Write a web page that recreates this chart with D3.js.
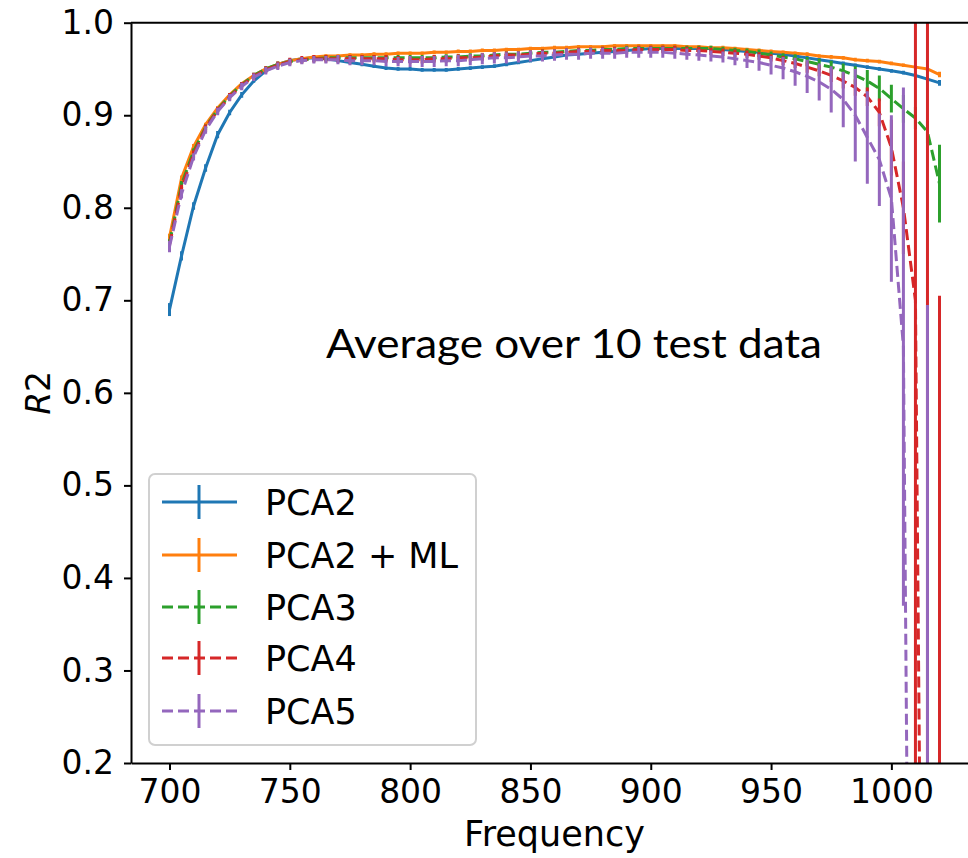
<!DOCTYPE html>
<html>
<head>
<meta charset="utf-8">
<script src="https://cdn.jsdelivr.net/npm/d3@7"></script>
<style>
  body { margin: 0; background: #fff; overflow: hidden; }
  svg { display: block; }
  .axis text { font-family: "DejaVu Sans", sans-serif; font-size: 33px; fill: #000; }
  .axis path, .axis line { stroke: #000; stroke-width: 2; }
</style>
</head>
<body>
<svg id="chart" width="968" height="858"></svg>
<script>
// frequencies (x) shared by every series
var freqs = [700, 705, 710, 715, 720, 725, 730, 735, 740, 745, 750, 755, 760, 765, 770, 775, 780, 785, 790, 795,
             800, 805, 810, 815, 820, 825, 830, 835, 840, 845, 850, 855, 860, 865, 870, 875, 880, 885, 890, 895,
             900, 905, 910, 915, 920, 925, 930, 935, 940, 945, 950, 955, 960, 965, 970, 975, 980, 985, 990, 995,
             1000, 1005, 1010, 1015, 1020];

var pca2 = [.690, .748, .802, .843, .879, .903, .922, .937, .948, .955, .959, .961, .962, .961, .959, .957, .955, .953, .951, .950,
            .950, .949, .949, .949, .950, .951, .952, .953, .955, .957, .959, .961, .963, .965, .966, .967, .968, .969, .970, .971,
            .972, .972, .972, .972, .972, .972, .971, .970, .969, .968, .967, .966, .964, .962, .960, .958, .956, .954, .952, .950,
            .948, .946, .943, .939, .935];
var pca2Err = [.007, .005, .004, .004, .004, .003, .003, .002, .002, .002, .002, .002, .002, .002, .002, .002, .002, .002, .002, .002,
               .002, .002, .002, .002, .002, .002, .002, .002, .002, .002, .002, .002, .002, .002, .002, .002, .002, .002, .002, .002,
               .002, .002, .002, .002, .002, .002, .002, .002, .002, .002, .002, .002, .002, .002, .002, .002, .002, .002, .002, .002,
               .002, .002, .002, .002, .003];

var pca2ml = [.768, .832, .866, .890, .908, .922, .934, .943, .950, .955, .959, .961, .963, .964, .964, .965, .965, .966, .966, .967,
              .967, .967, .968, .968, .969, .969, .970, .970, .971, .971, .972, .972, .973, .973, .974, .974, .974, .975, .975, .975,
              .975, .975, .975, .974, .974, .973, .973, .972, .971, .970, .969, .968, .967, .966, .964, .963, .962, .960, .959, .958,
              .956, .954, .952, .950, .944];
var pca2mlErr = [.004, .003, .003, .002, .002, .002, .002, .002, .002, .002, .002, .002, .002, .002, .002, .002, .002, .002, .002, .002,
                 .002, .002, .002, .002, .002, .002, .002, .002, .002, .002, .002, .002, .002, .002, .002, .002, .002, .002, .002, .002,
                 .002, .002, .002, .002, .002, .002, .002, .002, .002, .002, .002, .002, .002, .002, .002, .002, .002, .002, .002, .002,
                 .002, .002, .002, .003, .003];

var pca3 = [.762, .825, .861, .887, .906, .921, .933, .943, .950, .955, .958, .960, .961, .962, .962, .962, .962, .962, .962, .962,
            .962, .962, .962, .963, .963, .964, .964, .965, .966, .966, .967, .968, .968, .969, .970, .970, .971, .971, .972, .972,
            .972, .972, .972, .972, .972, .972, .971, .970, .969, .967, .965, .963, .961, .958, .955, .952, .948, .943, .937, .929,
            .918, .907, .897, .882, .826];
var pca3Err = [.004, .004, .003, .003, .003, .003, .003, .003, .003, .003, .003, .003, .003, .003, .003, .003, .003, .003, .003, .003,
               .003, .003, .003, .003, .003, .003, .003, .003, .003, .003, .003, .003, .003, .003, .003, .003, .003, .003, .003, .003,
               .003, .003, .003, .003, .003, .003, .003, .003, .003, .004, .004, .004, .005, .005, .006, .007, .008, .010, .012, .014,
               .015, .015, .012, .012, .042];

var pca4 = [.760, .821, .858, .886, .905, .920, .932, .942, .949, .954, .958, .960, .961, .961, .961, .961, .961, .961, .961, .960,
            .960, .960, .961, .961, .962, .962, .963, .964, .965, .965, .966, .967, .967, .968, .969, .969, .970, .970, .970, .971,
            .971, .971, .971, .970, .970, .969, .968, .967, .966, .964, .962, .959, .956, .952, .948, .943, .937, .930, .920, .903,
            .865, .800, .700, -0.80, -3.00];
var pca4Err = [.004, .004, .004, .004, .004, .004, .004, .004, .004, .004, .004, .004, .004, .004, .004, .004, .004, .004, .004, .004,
               .004, .004, .004, .004, .004, .004, .004, .004, .004, .004, .004, .004, .004, .004, .004, .004, .004, .004, .004, .004,
               .004, .004, .004, .004, .004, .004, .004, .004, .004, .004, .004, .005, .005, .006, .006, .007, .008, .009, .010, .015,
               .030, .050, 1.50, 2.60, 3.705];

var pca5 = [.758, .815, .855, .884, .904, .919, .931, .941, .948, .953, .957, .959, .960, .960, .960, .959, .959, .959, .958, .958,
            .958, .958, .958, .959, .959, .960, .961, .962, .962, .963, .964, .964, .965, .966, .966, .967, .967, .967, .968, .968,
            .968, .968, .967, .966, .965, .964, .963, .961, .959, .957, .954, .951, .947, .942, .936, .928, .917, .900, .876, .852,
            .810, .650, -0.95, -1.50, -3.00];
var pca5Err = [.006, .005, .004, .004, .004, .004, .004, .004, .004, .004, .004, .004, .004, .004, .005, .005, .005, .005, .005, .005,
               .006, .006, .006, .006, .006, .006, .006, .006, .006, .006, .006, .006, .006, .006, .006, .006, .006, .006, .006, .006,
               .006, .006, .006, .006, .006, .006, .006, .007, .008, .009, .010, .012, .015, .018, .020, .025, .030, .050, .050, .050,
               .090, .280, 1.00, 2.195, 2.00];

var labels = ["PCA2", "PCA2 + ML", "PCA3", "PCA4", "PCA5"];
var colors = ["#1f77b4", "#ff7f0e", "#2ca02c", "#d62728", "#9467bd"];
var dashed = [false, false, true, true, true];

var xTicks = [700, 750, 800, 850, 900, 950, 1000];
var yTicks = [0.2, 0.3, 0.4, 0.5, 0.6, 0.7, 0.8, 0.9, 1.0];

var series = [
  {name: labels[0], y: pca2,   err: pca2Err},
  {name: labels[1], y: pca2ml, err: pca2mlErr},
  {name: labels[2], y: pca3,   err: pca3Err},
  {name: labels[3], y: pca4,   err: pca4Err},
  {name: labels[4], y: pca5,   err: pca5Err}
];
series.forEach(function(s, i) {
  s.color = colors[i];
  s.dashed = dashed[i];
  s.points = freqs.map(function(f, k) { return {f: f, v: s.y[k], e: s.err[k]}; });
});

var plotLeft = 131, plotRight = 978, plotTop = 22.7, plotBottom = 763;

var xScale = d3.scaleLinear().domain([684, 1036]).range([plotLeft, plotRight]),
    yScale = d3.scaleLinear().domain([0.2, 1.0]).range([plotBottom, plotTop]);

function clampY(v) { return Math.max(-50, Math.min(2000, yScale(v))); }

var svg = d3.select("#chart");

svg.append("defs").append("clipPath")
    .attr("id", "plotclip")
  .append("rect")
    .attr("x", plotLeft).attr("y", plotTop)
    .attr("width", plotRight - plotLeft).attr("height", plotBottom - plotTop);

// data
var plot = svg.append("g").attr("clip-path", "url(#plotclip)");

var line = d3.line()
    .x(function(d) { return xScale(d.f); })
    .y(function(d) { return yScale(d.v); });

series.forEach(function(s) {
  var g = plot.append("g");
  g.append("path")
      .datum(s.points)
      .attr("d", line)
      .attr("fill", "none")
      .attr("stroke", s.color)
      .attr("stroke-width", 3)
      .attr("stroke-dasharray", s.dashed ? "11,5" : null);
  g.selectAll(".bar")
      .data(s.points)
    .enter().append("line")
      .attr("class", "bar")
      .attr("x1", function(d) { return xScale(d.f); })
      .attr("x2", function(d) { return xScale(d.f); })
      .attr("y1", function(d) { return clampY(d.v - d.e); })
      .attr("y2", function(d) { return clampY(d.v + d.e); })
      .attr("stroke", s.color)
      .attr("stroke-width", 3);
});

// axes
var xAxis = d3.axisBottom(xScale).tickValues(xTicks).tickSize(7).tickPadding(10).tickSizeOuter(0)
    .tickFormat(d3.format("d"));
var yAxis = d3.axisLeft(yScale).tickValues(yTicks).tickSize(7).tickPadding(10).tickSizeOuter(0)
    .tickFormat(d3.format(".1f"));

svg.append("g")
    .attr("class", "axis")
    .attr("transform", "translate(0," + plotBottom + ")")
    .call(xAxis);

svg.append("g")
    .attr("class", "axis")
    .attr("transform", "translate(" + plotLeft + ",0)")
    .call(yAxis);

svg.append("line")
    .attr("x1", plotLeft).attr("x2", plotRight)
    .attr("y1", plotTop).attr("y2", plotTop)
    .attr("stroke", "#000").attr("stroke-width", 2);

svg.append("text")
    .attr("x", (plotLeft + plotRight) / 2)
    .attr("y", 846)
    .attr("text-anchor", "middle")
    .style("font-family", "DejaVu Sans")
    .style("font-size", "35px")
    .text("Frequency");

var ylab = svg.append("text")
    .attr("transform", "translate(50," + ((plotTop + plotBottom) / 2) + ") rotate(-90)")
    .attr("text-anchor", "middle")
    .style("font-family", "DejaVu Sans")
    .style("font-size", "33px");
ylab.append("tspan").style("font-style", "italic").text("R");
ylab.append("tspan").text("2");

// legend
var legend = svg.append("g");
legend.append("rect")
    .attr("x", 149).attr("y", 474)
    .attr("width", 327).attr("height", 271)
    .attr("rx", 6)
    .attr("fill", "#fff").attr("fill-opacity", 0.8)
    .attr("stroke", "#d0d0d0").attr("stroke-width", 2);

var rowY = [502, 555, 607, 658, 711];
series.forEach(function(s, i) {
  var y = rowY[i];
  legend.append("line")
      .attr("x1", 162).attr("x2", 237)
      .attr("y1", y).attr("y2", y)
      .attr("stroke", s.color).attr("stroke-width", 3)
      .attr("stroke-dasharray", s.dashed ? "11,5" : null);
  legend.append("line")
      .attr("x1", 199).attr("x2", 199)
      .attr("y1", y - 17).attr("y2", y + 17)
      .attr("stroke", s.color).attr("stroke-width", 3);
  legend.append("text")
      .attr("x", 265).attr("y", y)
      .attr("dy", "0.36em")
      .style("font-family", "DejaVu Sans")
      .style("font-size", "35px")
      .text(s.name);
});

// annotation
svg.append("text")
    .attr("x", 326).attr("y", 358)
    .attr("textLength", 496)
    .attr("lengthAdjust", "spacingAndGlyphs")
    .style("font-family", "Lato, 'Open Sans', sans-serif")
    .style("font-size", "40px")
    .text("Average over 10 test data");
</script>
</body>
</html>
